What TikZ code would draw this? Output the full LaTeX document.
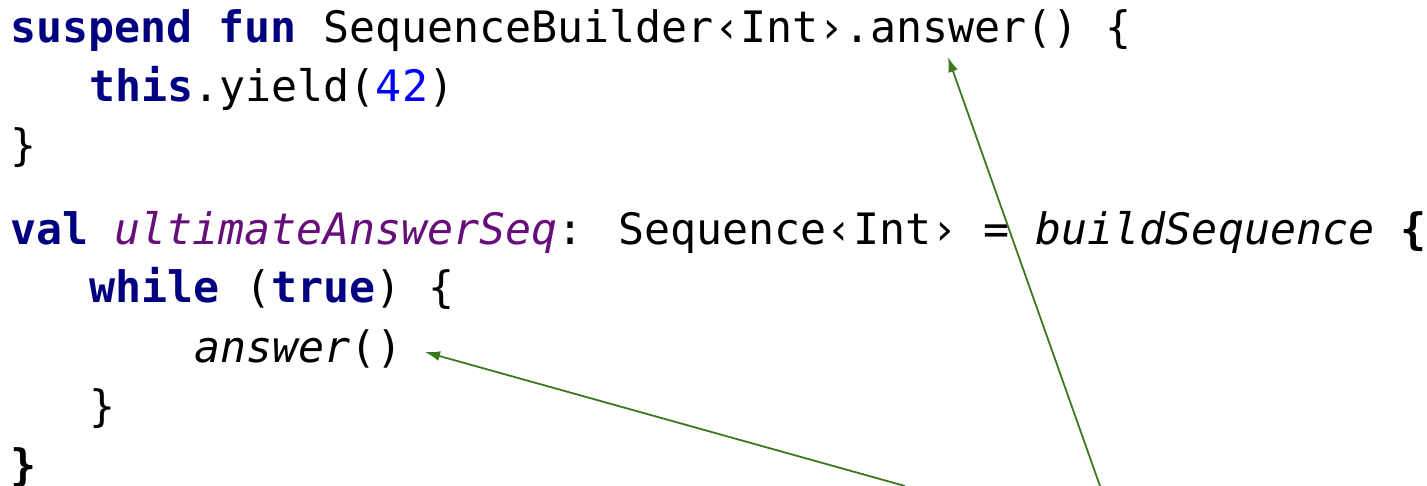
\documentclass[tikz,border=0pt]{standalone}
\usepackage{fontspec}
\usetikzlibrary{arrows.meta}
\newfontfamily\codefont{DejaVu Sans Mono}
\definecolor{kwnavy}{RGB}{0,0,128}
\definecolor{numblue}{RGB}{0,0,255}
\definecolor{varpurple}{RGB}{102,14,122}
\definecolor{arrowgreen}{RGB}{60,120,30}
\newcommand{\kw}[1]{\textcolor{kwnavy}{\bfseries #1}}
\begin{document}
\begin{tikzpicture}[x=1pt,y=-1pt,
  codeline/.style={anchor=base west, inner sep=0pt, font=\codefont\fontsize{43.3pt}{52pt}\selectfont},
  pointer/.style={draw=arrowgreen, line width=1.8pt, -{Latex[length=15pt,width=10pt]}}]
\useasboundingbox (0,0) rectangle (1427,486);
\node[codeline] (l1) at (10,43) {\kw{suspend} \kw{fun} SequenceBuilder‹Int›.answer() \{};
\node[codeline] (l2) at (89,102) {\kw{this}.yield(\textcolor{numblue}{42})};
\node[codeline] (l3) at (10,161) {\}};
\node[codeline] (l4) at (10,245) {\kw{val} \textcolor{varpurple}{\itshape ultimateAnswerSeq}: Sequence‹Int› = {\itshape buildSequence} {\bfseries\{}};
\node[codeline] (l5) at (89,303) {\kw{while} (\kw{true}) \{};
\node[codeline] (l6) at (194,362) {{\itshape answer}()};
\node[codeline] (l7) at (89,421) {\}};
\node[codeline] (l8) at (10,480) {{\bfseries\}}};
\coordinate (s1) at (905,486);
\coordinate (t1) at (425,352);
\coordinate (s2) at (1100,486);
\coordinate (t2) at (948,57);
\draw[pointer] (s1) -- (t1);
\draw[pointer] (s2) -- (t2);
\end{tikzpicture}
\end{document}
